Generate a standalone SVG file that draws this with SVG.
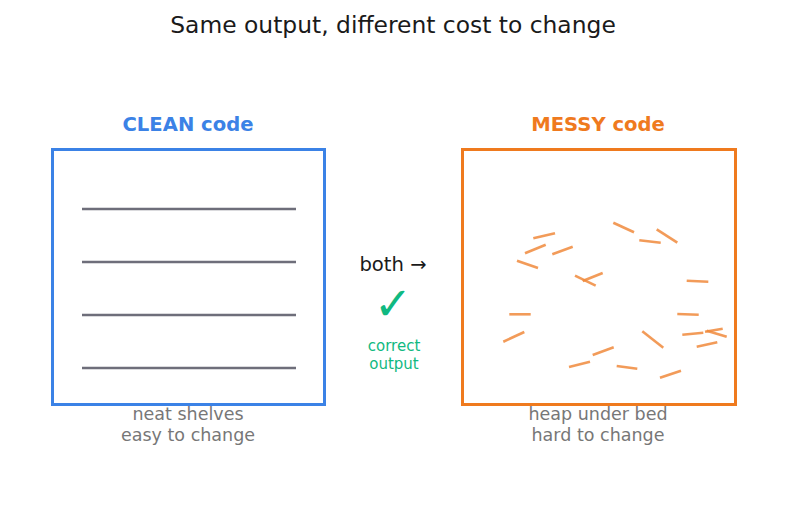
<svg xmlns="http://www.w3.org/2000/svg" width="787" height="510" viewBox="0 0 787 510">
<style>
text{font-family:"DejaVu Sans","Liberation Sans",sans-serif;text-anchor:middle}
.title{font-size:23.4px;fill:#1a1a1a}
.head{font-size:19.6px;font-weight:bold}
.cap{font-size:17.5px;fill:#777777}
.shelf{stroke:#6e6e7a;stroke-width:2.5}
.mess line{stroke:#f08a3c;stroke-width:2.6;stroke-opacity:0.85;stroke-linecap:butt}
</style>
<rect width="787" height="510" fill="#ffffff"/>
<text class="title" x="393" y="33">Same output, different cost to change</text>
<g id="clean">
<text class="head" x="188" y="131" fill="#3b82e6">CLEAN code</text>
<rect x="52.5" y="149.5" width="272" height="255" fill="none" stroke="#3b82e6" stroke-width="3"/>
<line class="shelf" x1="82" y1="209" x2="296" y2="209"/>
<line class="shelf" x1="82" y1="262" x2="296" y2="262"/>
<line class="shelf" x1="82" y1="315" x2="296" y2="315"/>
<line class="shelf" x1="82" y1="368" x2="296" y2="368"/>
<text class="cap" x="188" y="420">neat shelves</text>
<text class="cap" x="188" y="441">easy to change</text>
</g>
<g id="middle">
<text x="393" y="271" font-size="19.6" fill="#1a1a1a">both →</text>
<text x="393" y="320" font-size="46" fill="#10b981">✓</text>
<text x="394" y="351" font-size="15" fill="#10b981">correct</text>
<text x="394" y="368.5" font-size="15" fill="#10b981">output</text>
</g>
<g id="messy">
<text class="head" x="598" y="131" fill="#ef7a1e">MESSY code</text>
<rect x="462.5" y="149.5" width="273" height="255" fill="none" stroke="#ef7a1e" stroke-width="3"/>
<g class="mess">
<line x1="533.3" y1="238.3" x2="555" y2="233.3"/>
<line x1="525" y1="253.3" x2="545.7" y2="244.7"/>
<line x1="552.3" y1="254.3" x2="572.7" y2="246.7"/>
<line x1="517" y1="260.7" x2="538" y2="268"/>
<line x1="575" y1="275.7" x2="595.7" y2="285.7"/>
<line x1="582.7" y1="281" x2="602.7" y2="273"/>
<line x1="613.3" y1="222.7" x2="634" y2="232.3"/>
<line x1="639.3" y1="240.3" x2="660.7" y2="242.7"/>
<line x1="656.7" y1="229.3" x2="677.3" y2="242.7"/>
<line x1="686.7" y1="280.7" x2="708.3" y2="281.7"/>
<line x1="509.3" y1="314.3" x2="530.7" y2="314.3"/>
<line x1="503.3" y1="341.7" x2="524.3" y2="332"/>
<line x1="569" y1="367" x2="590" y2="361.7"/>
<line x1="592.7" y1="355" x2="613.7" y2="347.3"/>
<line x1="677.3" y1="314" x2="698.7" y2="314.7"/>
<line x1="642.3" y1="331.3" x2="663.3" y2="347.7"/>
<line x1="682.3" y1="334.7" x2="703.3" y2="332.7"/>
<line x1="705" y1="331.7" x2="722.7" y2="328.7"/>
<line x1="706.7" y1="330.7" x2="726.7" y2="336.7"/>
<line x1="696.7" y1="346.7" x2="717.3" y2="342.3"/>
<line x1="616.7" y1="366" x2="637.3" y2="368.7"/>
<line x1="660" y1="377.7" x2="681" y2="370.7"/>
</g>
<text class="cap" x="598" y="420">heap under bed</text>
<text class="cap" x="598" y="441">hard to change</text>
</g>
</svg>
